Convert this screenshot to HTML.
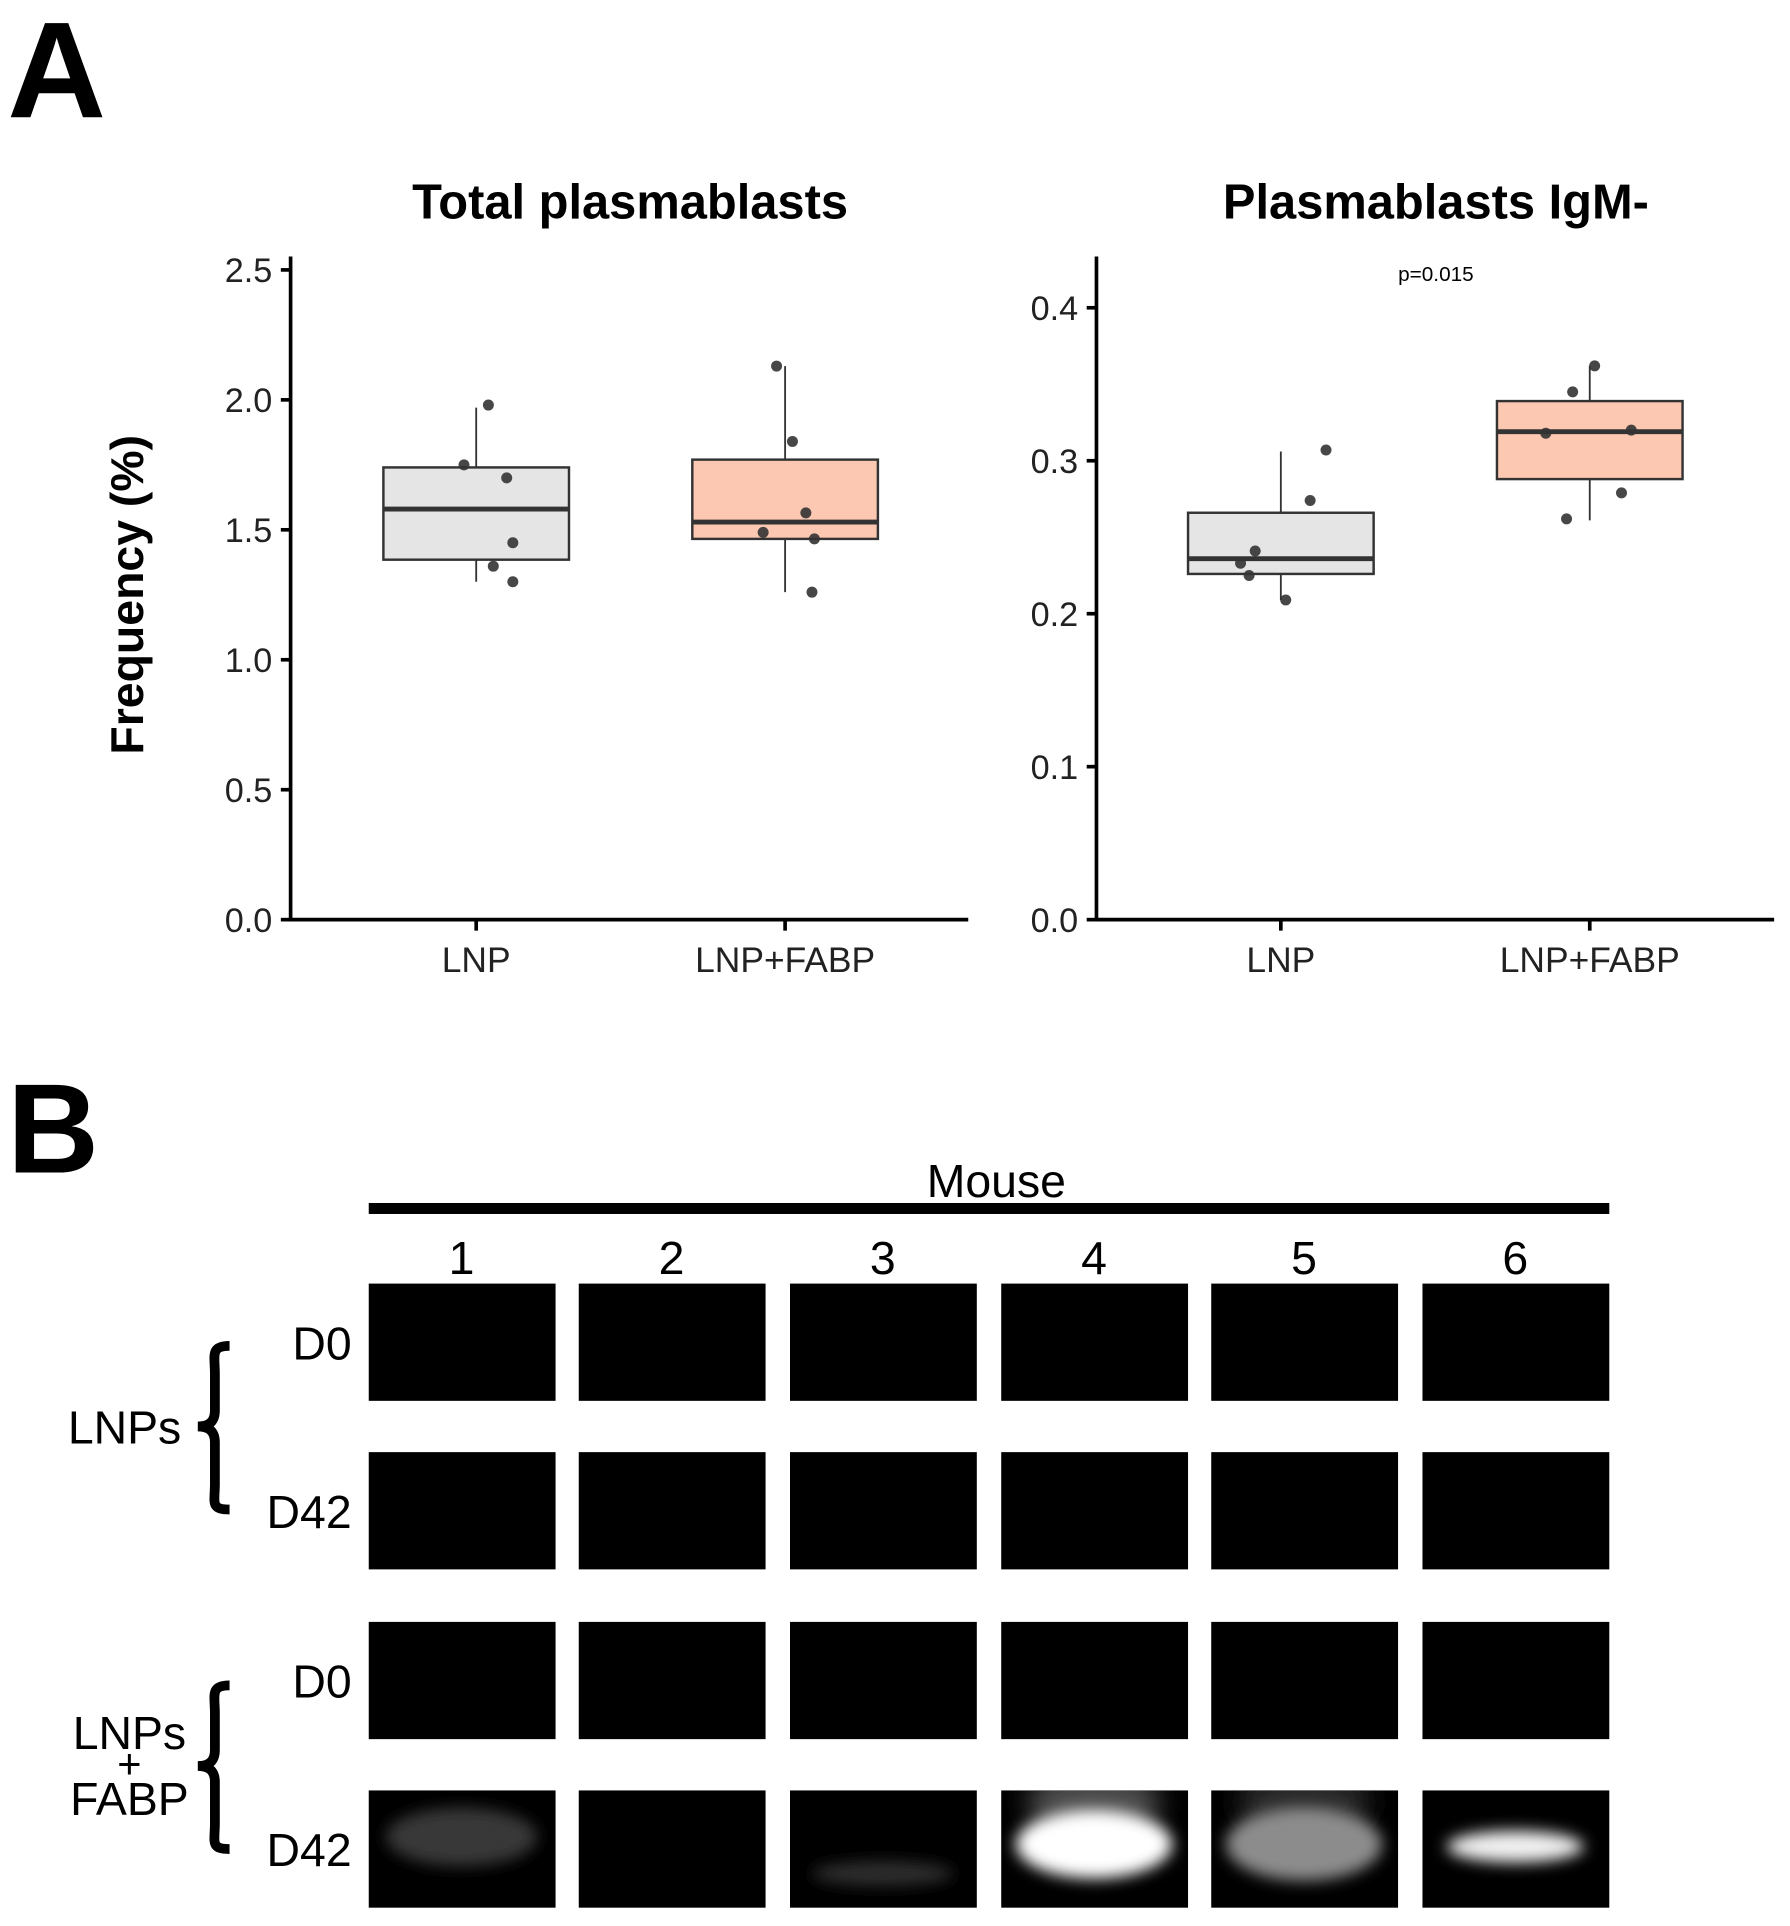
<!DOCTYPE html>
<html><head><meta charset="utf-8"><style>
html,body{margin:0;padding:0;background:#fff;}
svg{display:block;font-family:"Liberation Sans",Arial,sans-serif;}
</style></head><body>
<svg id="fig" width="1790" height="1926" viewBox="0 0 1466 1577" preserveAspectRatio="none">
<defs>
<filter id="blur6" x="-50%" y="-50%" width="200%" height="200%"><feGaussianBlur stdDeviation="6"/></filter>
<filter id="blur10" x="-50%" y="-50%" width="200%" height="200%"><feGaussianBlur stdDeviation="10"/></filter>
</defs>
<text x="6" y="96" font-size="112" font-weight="bold">A</text>
<text x="516" y="179" font-size="40" font-weight="bold" text-anchor="middle">Total plasmablasts</text>
<text x="1176" y="179" font-size="40" font-weight="bold" text-anchor="middle">Plasmablasts IgM-</text>
<text transform="translate(117,487) rotate(-90)" font-size="38" font-weight="bold" text-anchor="middle">Frequency (%)</text>
<text x="1176" y="230" font-size="17" text-anchor="middle">p=0.015</text>
<g id="c1"></g>
<g id="c2"></g>

<text x="6" y="960" font-size="104" font-weight="bold">B</text>
<text x="816" y="980" font-size="38" text-anchor="middle">Mouse</text>
<rect x="302" y="985" width="1016" height="9" fill="#000"/>
<g id="blot"></g>
<path d="M188,1102 C172,1102 176,1110 176,1125 L176,1155 C176,1165 170,1168 162,1168 C170,1168 176,1171 176,1181 L176,1215 C176,1230 172,1236 188,1236" fill="none" stroke="#000" stroke-width="8"/>
<text x="102" y="1182" font-size="38" text-anchor="middle">LNPs</text>
<path d="M188,1380 C172,1380 176,1388 176,1403 L176,1433 C176,1443 170,1446 162,1446 C170,1446 176,1449 176,1459 L176,1493 C176,1508 172,1514 188,1514" fill="none" stroke="#000" stroke-width="8"/>
<text x="106" y="1432" font-size="38" text-anchor="middle">LNPs</text>
<text x="106" y="1456" font-size="34" text-anchor="middle">+</text>
<text x="106" y="1486" font-size="38" text-anchor="middle">FABP</text>
</svg>
<script>
const categories = ["LNP", "LNP+FABP"];
// Chart 1: Total plasmablasts
const c1Ticks = [0.0, 0.5, 1.0, 1.5, 2.0, 2.5];
const c1Q1 = [1.385, 1.465];
const c1Median = [1.58, 1.53];
const c1Q3 = [1.74, 1.77];
const c1WhiskLo = [1.30, 1.26];
const c1WhiskHi = [1.97, 2.13];
const c1PointsLNP = [1.75, 1.98, 1.70, 1.45, 1.36, 1.30];
const c1PointsFABP = [2.13, 1.84, 1.565, 1.49, 1.465, 1.26];
// Chart 2: Plasmablasts IgM-
const c2Ticks = [0.0, 0.1, 0.2, 0.3, 0.4];
const c2Q1 = [0.226, 0.288];
const c2Median = [0.236, 0.319];
const c2Q3 = [0.266, 0.339];
const c2WhiskLo = [0.209, 0.261];
const c2WhiskHi = [0.306, 0.362];
const c2PointsLNP = [0.274, 0.307, 0.241, 0.233, 0.225, 0.209];
const c2PointsFABP = [0.362, 0.345, 0.318, 0.320, 0.279, 0.262];
// Blot band intensities (0-1) for LNPs+FABP D42 row, mice 1-6
const mice = ["1","2","3","4","5","6"];
const bandIntensity = [0.22, 0.0, 0.18, 1.0, 0.55, 0.95];

const NS = "http://www.w3.org/2000/svg";
function mk(parent, tag, attrs){const e=document.createElementNS(NS,tag);for(const k in attrs)e.setAttribute(k,attrs[k]);parent.appendChild(e);return e;}
const jitter = [-10, 10, 25, 30, 14, 30];
const jitter2 = [24, 37, -21, -33, -26, 4];
const jitterB = [-7, 6, 17, -18, 24, 22];
const jitterB2 = [4, -14, -36, 34, 26, -19];

function drawChart(gid, cfg){
  const g=document.getElementById(gid);
  const y=v=>cfg.y0-(v/cfg.vmax)*(cfg.y0-cfg.yTop);
  const xs=categories.map((c,i)=>cfg.cx0+i*253);
  let l=mk(g,'line',{x1:cfg.ax,y1:210,x2:cfg.ax,y2:cfg.y0+1.5,stroke:'#000','stroke-width':3});
   
  l=mk(g,'line',{x1:cfg.ax-1.5,y1:cfg.y0,x2:cfg.ax+555,y2:cfg.y0,stroke:'#000','stroke-width':3});
   
  cfg.ticks.forEach(t=>{
    const tk=mk(g,'line',{x1:cfg.ax-8,y1:y(t),x2:cfg.ax,y2:y(t),stroke:'#000','stroke-width':3});
     
    const tl=mk(g,'text',{x:cfg.ax-15,y:y(t)+10,'font-size':28,'text-anchor':'end',fill:'#222'});
    tl.textContent=t.toFixed(1);
     
  });
  categories.forEach((c,i)=>{
    const x=xs[i];
    const tk=mk(g,'line',{x1:x,y1:cfg.y0,x2:x,y2:cfg.y0+9,stroke:'#000','stroke-width':3});
     
    const tl=mk(g,'text',{x:x,y:cfg.y0+43,'font-size':29,'text-anchor':'middle',fill:'#222'});
    tl.textContent=c;
     
    const w=mk(g,'line',{x1:x,y1:y(cfg.lo[i]),x2:x,y2:y(cfg.hi[i]),stroke:'#333','stroke-width':1.5});
     
    const b=mk(g,'rect',{x:x-76,y:y(cfg.q3[i]),width:152,height:y(cfg.q1[i])-y(cfg.q3[i]),fill:i?'#fcc8b1':'#e5e5e5',stroke:'#333','stroke-width':2});
     
    const m=mk(g,'line',{x1:x-76,y1:y(cfg.med[i]),x2:x+76,y2:y(cfg.med[i]),stroke:'#333','stroke-width':4});
     
    const pts=i?cfg.pB:cfg.pA, jit=i?cfg.jB:cfg.jA;
    pts.forEach((v,k)=>{
      const p=mk(g,'circle',{cx:x+jit[k],cy:y(v),r:4.5,fill:'#333','fill-opacity':0.9});
       
    });
  });
}
drawChart('c1',{ax:238,y0:753,yTop:221,vmax:2.5,cx0:390,ticks:c1Ticks,q1:c1Q1,med:c1Median,q3:c1Q3,lo:c1WhiskLo,hi:c1WhiskHi,pA:c1PointsLNP,pB:c1PointsFABP,jA:jitter,jB:jitterB});
drawChart('c2',{ax:898,y0:753,yTop:252,vmax:0.4,cx0:1049,ticks:c2Ticks,q1:c2Q1,med:c2Median,q3:c2Q3,lo:c2WhiskLo,hi:c2WhiskHi,pA:c2PointsLNP,pB:c2PointsFABP,jA:jitter2,jB:jitterB2});

// Blot grid
const blot=document.getElementById('blot');
const defs=document.querySelector('defs');
const colX=[302,474,647,820,992,1165];
const rowY=[1051,1189,1328,1466];
const rowLabels=["D0","D42","D0","D42"];
mice.forEach((m,i)=>{
  const t=mk(blot,'text',{x:colX[i]+76,y:1043,'font-size':38,'text-anchor':'middle'});
  t.textContent=m;
   
});
rowY.forEach((ry,r)=>{
  const t=mk(blot,'text',{x:288,y:ry+62,'font-size':38,'text-anchor':'end'});
  t.textContent=rowLabels[r];
   
  colX.forEach((cx,i)=>{
    const rc=mk(blot,'rect',{x:cx,y:ry,width:153,height:96,fill:'#000'});
     
    if(r===3 && bandIntensity[i]>0){
      const cp=mk(defs,'clipPath',{id:'clip'+i});
      mk(cp,'rect',{x:cx,y:ry,width:153,height:96});
      const gg=mk(blot,'g',{'clip-path':'url(#clip'+i+')'});
       
      const v=Math.round(255*bandIntensity[i]);
      const col='rgb('+v+','+v+','+v+')';
      const sh=[{cy:38,ry:24,rx:62},null,{cy:68,ry:10,rx:58},{cy:44,ry:28,rx:64},{cy:44,ry:30,rx:64},{cy:46,ry:13,rx:56}][i];
      if(bandIntensity[i]>0.5 && i!==5){
        const h=mk(gg,'ellipse',{cx:cx+76,cy:ry+10,rx:55,ry:26,fill:'rgb('+Math.round(v*0.3)+','+Math.round(v*0.3)+','+Math.round(v*0.3)+')',filter:'url(#blur10)'});
         
      }
      const e=mk(gg,'ellipse',{cx:cx+76,cy:ry+sh.cy,rx:sh.rx,ry:sh.ry,fill:col,filter:'url(#blur6)'});
       
    }
  });
});
</script>
</body></html>
